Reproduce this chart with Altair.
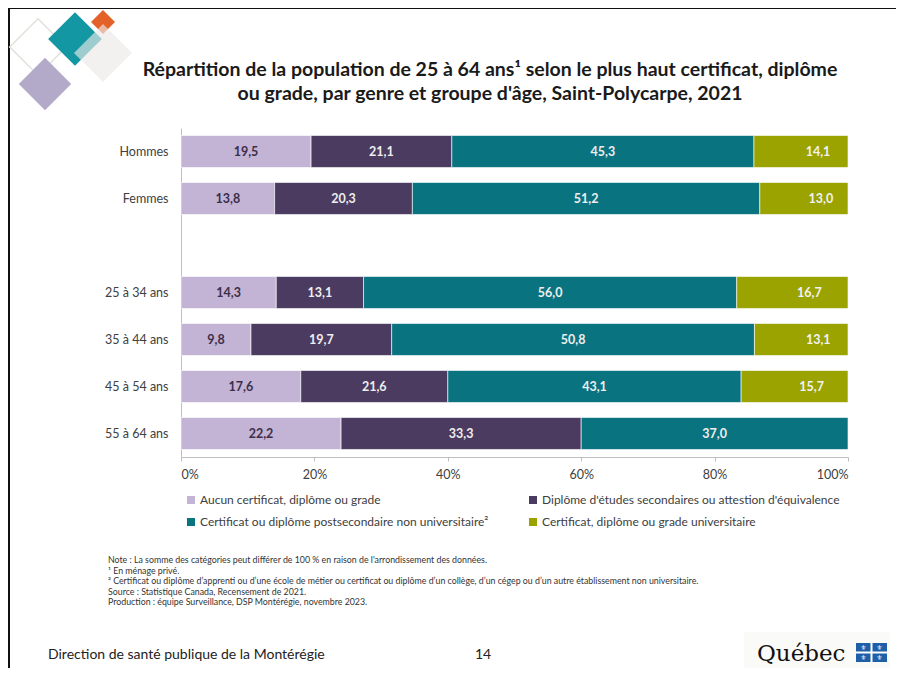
import altair as alt
import pandas as pd

# ---------------- data ----------------
groups = ["Hommes", "Femmes", "25 à 34 ans", "35 à 44 ans", "45 à 54 ans", "55 à 64 ans"]
y_domain = ["Hommes", "Femmes", " ", "25 à 34 ans", "35 à 44 ans", "45 à 54 ans", "55 à 64 ans"]
categories = [
    "Aucun certificat, diplôme ou grade",
    "Diplôme d'études secondaires ou attestion d'équivalence",
    "Certificat ou diplôme postsecondaire non universitaire²",
    "Certificat, diplôme ou grade universitaire",
]
aucun = [19.5, 13.8, 14.3, 9.8, 17.6, 22.2]
secondaire = [21.1, 20.3, 13.1, 19.7, 21.6, 33.3]
postsec = [45.3, 51.2, 56.0, 50.8, 43.1, 37.0]
univ = [14.1, 13.0, 16.7, 13.1, 15.7, None]
colors = ["#c3b3d4", "#4b3b60", "#0a7380", "#9aa300"]
x_ticks = [0, 0.2, 0.4, 0.6, 0.8, 1.0]

title_lines = [
    "Répartition de la population de 25 à 64 ans¹ selon le plus haut certificat, diplôme",
    "ou grade, par genre et groupe d'âge, Saint-Polycarpe, 2021",
]
notes = [
    "Note : La somme des catégories peut différer de 100 % en raison de l'arrondissement des données.",
    "¹ En ménage privé.",
    "² Certificat ou diplôme d’apprenti ou d’une école de métier ou certificat ou diplôme d’un collège, d’un cégep ou d’un autre établissement non universitaire.",
    "Source : Statistique Canada, Recensement de 2021.",
    "Production : équipe Surveillance, DSP Montérégie, novembre 2023.",
]
footer = "Direction de santé publique de la Montérégie"
page_no = "14"

rows = []
for ci, (cat, vals) in enumerate(zip(categories, [aucun, secondaire, postsec, univ])):
    for g, v in zip(groups, vals):
        if v is None:
            continue
        rows.append({"group": g, "cat": cat, "order": ci, "value": v})
df = pd.DataFrame(rows)
one = pd.DataFrame({"k": [0]})

FONT = "Lato"

base = alt.Chart(df).transform_stack(
    stack="value", groupby=["group"], as_=["x0", "x1"], offset="normalize",
    sort=[alt.SortField("order", order="ascending")],
).transform_calculate(
    mid="(datum.x0 + datum.x1) / 2",
    label="replace(format(datum.value, '.1f'), '.', ',')",
)

yenc = alt.Y(
    "group:N",
    title=None,
    scale=alt.Scale(domain=y_domain, paddingInner=0.32, paddingOuter=0.16),
    axis=alt.Axis(title=None, domainColor="#bfbfbf", ticks=False, labelFont=FONT,
                  labelFontSize=12.5, labelColor="#404040", labelPadding=13),
)

bars = base.mark_bar(stroke="white", strokeWidth=0.6).encode(
    x=alt.X("x0:Q", title=None, scale=alt.Scale(domain=[0, 1]),
            axis=alt.Axis(title=None, format="%", values=x_ticks, grid=False,
                          domainColor="#bfbfbf", tickColor="#bfbfbf", tickSize=4,
                          labelFont=FONT, labelFontSize=12.5, labelColor="#404040",
                          labelPadding=7)),
    x2="x1:Q",
    y=yenc,
    color=alt.Color("cat:N", scale=alt.Scale(domain=categories, range=colors),
                    legend=alt.Legend(title=None, orient="none", legendX=4, legendY=366,
                                      direction="horizontal",
                                      columns=2, symbolType="square", symbolSize=64,
                                      symbolStrokeWidth=0, labelFont=FONT, labelFontSize=12,
                                      labelColor="#404040", columnPadding=38, rowPadding=10,
                                      labelLimit=500, labelOffset=3)),
)

text_main = base.transform_filter("datum.order < 3").mark_text(
    font=FONT, fontWeight="bold", fontSize=12.5
).encode(
    x=alt.X("mid:Q", title=None),
    y=alt.Y("group:N", title=None),
    text="label:N",
    color=alt.condition("datum.order == 0", alt.value("#3b2f4a"), alt.value("#eeeeee")),
)
text_univ = base.transform_filter("datum.order == 3").mark_text(
    font=FONT, fontWeight="bold", fontSize=12.5, dx=17, color="#f2f2f2"
).encode(
    x=alt.X("mid:Q", title=None),
    y=alt.Y("group:N", title=None),
    text="label:N",
)

deco = []
# frame lines
deco.append(alt.Chart(one).mark_rule(color="#111", strokeWidth=2).encode(
    x=alt.value(-173), x2=alt.value(723), y=alt.value(-120)))
deco.append(alt.Chart(one).mark_rule(color="#111", strokeWidth=2).encode(
    x=alt.value(-172), y=alt.value(-120), y2=alt.value(560)))

# decorative diamonds
def diamond(x, y, side, fill=None, stroke=None, opacity=1.0):
    kw = dict(shape="square", angle=45, size=side * side, opacity=opacity)
    if fill:
        kw.update(filled=True, color=fill)
    else:
        kw.update(filled=False, color=stroke, strokeWidth=1.5)
    return alt.Chart(one).mark_point(**kw).encode(x=alt.value(x), y=alt.value(y))

deco.append(diamond(-143, -81, 40, stroke="#dfe4db"))
deco.append(diamond(-136, -44, 37, fill="#b3a9c9"))
deco.append(diamond(-106, -89, 38, fill="#1397a3"))
deco.append(diamond(-78, -106, 17, fill="#e4622a"))
deco.append(diamond(-78, -75, 41, fill="#ebe9e7", opacity=0.65))

# title
for i, line in enumerate(title_lines):
    deco.append(alt.Chart(one).mark_text(font=FONT, fontWeight="bold", fontSize=19.5,
                                         color="#1a1a1a").encode(
        x=alt.value(309), y=alt.value(-58 + 24 * i), text=alt.value(line)))

# notes
deco.append(alt.Chart(one).mark_text(font=FONT, fontSize=8.8, align="left", baseline="top",
                                     lineHeight=10.5, color="#333").encode(
    x=alt.value(-73), y=alt.value(428), text=alt.value(notes)))

# footer
deco.append(alt.Chart(one).mark_text(font=FONT, fontSize=14, align="left",
                                     color="#222").encode(
    x=alt.value(-133), y=alt.value(527), text=alt.value(footer)))
deco.append(alt.Chart(one).mark_text(font=FONT, fontSize=14, align="left",
                                     color="#222").encode(
    x=alt.value(294), y=alt.value(527), text=alt.value(page_no)))

# Québec logo
deco.append(alt.Chart(one).mark_rect(color="#fafaf8").encode(
    x=alt.value(563), x2=alt.value(709), y=alt.value(504), y2=alt.value(548)))
deco.append(alt.Chart(one).mark_text(font="DejaVu Serif", fontSize=23, align="left",
                                     baseline="alphabetic", color="#111").encode(
    x=alt.value(576), y=alt.value(533), text=alt.value("Québec")))
deco.append(alt.Chart(one).mark_rect(color="#1f5fa8").encode(
    x=alt.value(675), x2=alt.value(706), y=alt.value(515), y2=alt.value(534)))
deco.append(alt.Chart(one).mark_rule(color="white", strokeWidth=2).encode(
    x=alt.value(690.5), y=alt.value(515), y2=alt.value(534)))
deco.append(alt.Chart(one).mark_rule(color="white", strokeWidth=2).encode(
    x=alt.value(675), x2=alt.value(706), y=alt.value(524.5)))
for fx, fy in [(682.5, 519.5), (698.5, 519.5), (682.5, 529.5), (698.5, 529.5)]:
    deco.append(alt.Chart(one).mark_text(font="DejaVu Sans", fontSize=7, color="white").encode(
        x=alt.value(fx), y=alt.value(fy), text=alt.value("⚜")))

chart = alt.layer(bars, text_main, text_univ, *deco).properties(
    width=667, height=329, autosize="none",
    padding={"left": 173, "top": 120, "right": 48, "bottom": 211},
    background="white",
).configure_view(stroke=None)

chart.save("out.html", embed_options={"renderer": "svg", "actions": False})
